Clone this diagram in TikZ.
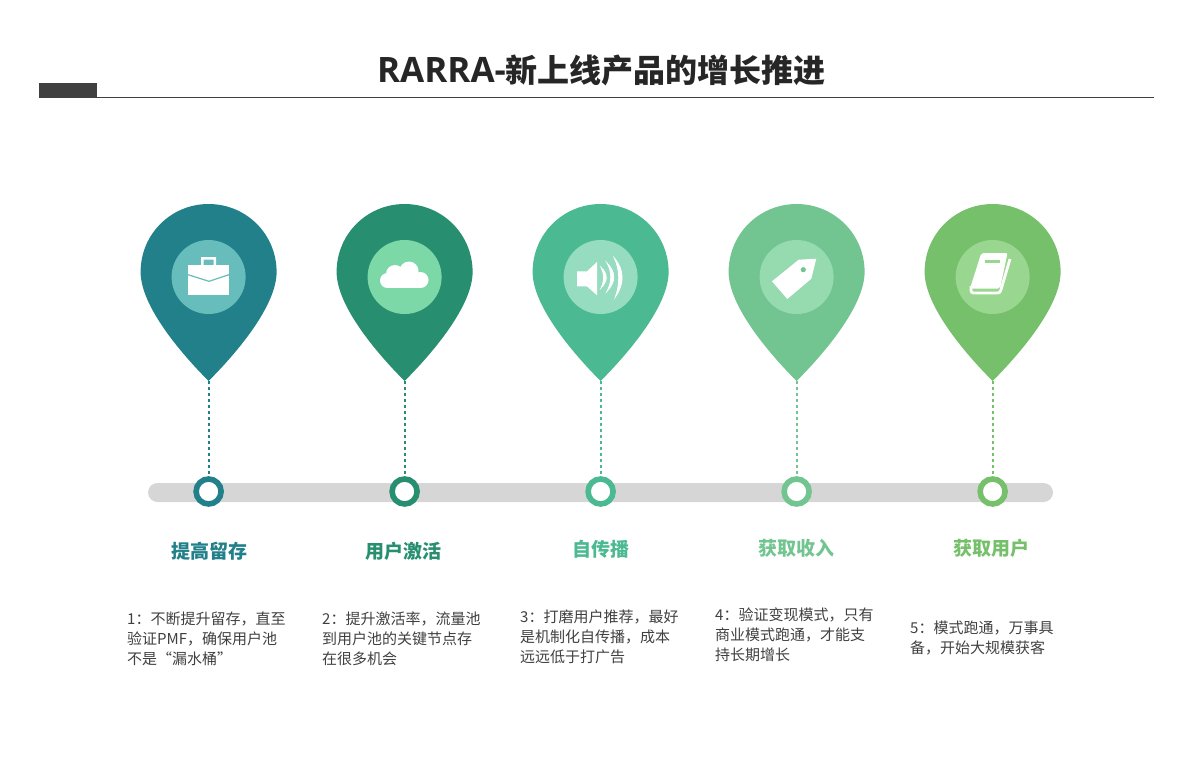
\documentclass[tikz,border=0pt]{standalone}
\usepackage{fontspec}
\usepackage{xcolor}
\setmainfont{Noto Sans CJK SC}
\newfontfamily\titlelatin{Open Sans}
\usetikzlibrary{arrows.meta, positioning}

\definecolor{pinA}{HTML}{22808A}
\definecolor{pinB}{HTML}{288E70}
\definecolor{pinC}{HTML}{4BB991}
\definecolor{pinD}{HTML}{72C591}
\definecolor{pinE}{HTML}{76BF6B}
\definecolor{circA}{HTML}{66BDBB}
\definecolor{circB}{HTML}{7DD8A8}
\definecolor{circC}{HTML}{95DCC0}
\definecolor{circD}{HTML}{96DAB0}
\definecolor{circE}{HTML}{99D68F}
\definecolor{inkdark}{HTML}{404040}

\begin{document}
\begin{tikzpicture}[x=1pt, y=-1pt,
    heading/.style={font=\fontsize{19}{22}\selectfont\bfseries},
    desc/.style={anchor=north west, align=left, inner sep=0pt, text=inkdark, font=\fontsize{15}{20}\selectfont},
    ring/.style={circle, draw=#1, fill=white, line width=5.6pt, minimum size=25pt, inner sep=0pt},
    stem/.style={draw=#1, line width=2pt, dash pattern=on 3.2pt off 2.8pt},
    pics/pinshape/.style 2 args={code={
        \fill[#1] (0,0) .. controls (-30,-30) and (-68,-76) .. (-68,-109)
            .. controls (-68,-147) and (-37.5,-177) .. (0,-177)
            .. controls (37.5,-177) and (68,-147) .. (68,-109)
            .. controls (68,-76) and (30,-30) .. (0,0) -- cycle;
        \fill[#2] (0,-104) circle[radius=37];
        \coordinate (-tip) at (0,0);
    }},
    pics/iconbag/.style={code={
        \fill[white] (-21,-12) rectangle (20,18);
        \fill[white, even odd rule] (-8,-20) rectangle (7,-12) (-5.5,-17.5) rectangle (4.5,-12);
        \draw[#1, line width=1.2pt] (-21,-2.3) -- (0,4.3) -- (20,-2.3);
    }},
    pics/iconcloud/.style={code={
        \fill[white] (-17.5,3.5) circle[radius=7.5] (-10,-3) circle[radius=9]
            (4,-6) circle[radius=9.5] (15.5,3) circle[radius=8];
        \fill[white] (-17.5,-2) rectangle (15.5,11);
    }},
    pics/iconhorn/.style={code={
        \fill[white] (-24,-5.7) -- (-14,-5.7) -- (-4,-15) -- (-4,18.3) -- (-14,9.3) -- (-24,9.3) -- cycle;
        \filldraw[white, line width=0.8pt, line cap=round] (0,-9.7) .. controls (7,-3) and (7,4) .. (0,11)
            .. controls (3.5,4) and (3.5,-3) .. (0,-9.7) -- cycle;
        \filldraw[white, line width=0.8pt, line cap=round] (6,-14) .. controls (15,-5) and (15,5) .. (6,14.3)
            .. controls (11,5) and (11,-5) .. (6,-14) -- cycle;
        \filldraw[white, line width=0.8pt, line cap=round] (13.3,-19) .. controls (23.5,-7) and (23.5,7) .. (14.3,20)
            .. controls (19,7) and (19,-7) .. (13.3,-19) -- cycle;
    }},
    pics/icontag/.style={code={
        \fill[white] (19.3,-18.3) -- (1.7,-17.3) -- (-25,4.3) -- (-9.7,22) -- (14.3,1.7) -- cycle;
        \fill[#1] (6.3,-7.3) circle[radius=2.6];
    }},
    pics/iconbook/.style={code={
        \fill[white, rounded corners=2pt] (-10.7,-24) -- (15.5,-24) -- (8,11.5) -- (-22,11.5) -- cycle;
        \fill[#1] (-6.7,-17.3) rectangle (7.7,-14.3);
        \draw[white, line width=2.8pt, rounded corners=2.5pt] (-21,9) -- (-21,16) -- (8,16) -- (18,-18);
    }}]

    \useasboundingbox (0,0) rectangle (1193,756);

    % Title
    \node[font=\fontsize{32}{36}\selectfont\bfseries, text=black!85] (title) at (601.5,70) {{\titlelatin\fontsize{35}{36}\selectfont RARRA-}新上线产品的增长推进};
    \fill[inkdark] (39,83) rectangle (97,98);
    \draw[inkdark, line width=1pt] (97,97.5) -- (1154,97.5);

    % Timeline
    \node[rectangle, fill=black!16, rounded corners=9.5pt, minimum width=905pt, minimum height=19pt, inner sep=0pt] (bar) at (600.5,492.5) {};

    % Pins
    \pic (pin1) at (208.6,381) {pinshape={pinA}{circA}};
    \pic (pin2) at (404.6,381) {pinshape={pinB}{circB}};
    \pic (pin3) at (600.6,381) {pinshape={pinC}{circC}};
    \pic (pin4) at (796.6,381) {pinshape={pinD}{circD}};
    \pic (pin5) at (992.6,381) {pinshape={pinE}{circE}};

    % Icons
    \pic at (209,277) {iconbag=circA};
    \pic at (405,277) {iconcloud};
    \pic at (601,277) {iconhorn};
    \pic at (797,277) {icontag=pinD};
    \pic at (992,277) {iconbook=circE};

    % Rings
    \node[ring=pinA] (ring1) at (208.6,491.5) {};
    \node[ring=pinB] (ring2) at (404.6,491.5) {};
    \node[ring=pinC] (ring3) at (600.6,491.5) {};
    \node[ring=pinD] (ring4) at (796.6,491.5) {};
    \node[ring=pinE] (ring5) at (992.6,491.5) {};

    % Stems
    \draw[stem=pinA] (pin1-tip) -- (ring1);
    \draw[stem=pinB] (pin2-tip) -- (ring2);
    \draw[stem=pinC] (pin3-tip) -- (ring3);
    \draw[stem=pinD] (pin4-tip) -- (ring4);
    \draw[stem=pinE] (pin5-tip) -- (ring5);

    % Headings
    \node[heading, text=pinA] (head1) at (209,551) {提高留存};
    \node[heading, text=pinB] (head2) at (403,551) {用户激活};
    \node[heading, text=pinC] (head3) at (601,549) {自传播};
    \node[heading, text=pinD] (head4) at (796,548) {获取收入};
    \node[heading, text=pinE] (head5) at (991,548) {获取用户};

    % Descriptions
    \node[desc] (desc1) at (127,612) {1：不断提升留存，直至\\验证PMF，确保用户池\\不是“漏水桶”};
    \node[desc] (desc2) at (322,612) {2：提升激活率，流量池\\到用户池的关键节点存\\在很多机会};
    \node[desc] (desc3) at (520,610) {3：打磨用户推荐，最好\\是机制化自传播，成本\\远远低于打广告};
    \node[desc] (desc4) at (715,608) {4：验证变现模式，只有\\商业模式跑通，才能支\\持长期增长};
    \node[desc] (desc5) at (910,621) {5：模式跑通，万事具\\备，开始大规模获客};
\end{tikzpicture}
\end{document}
